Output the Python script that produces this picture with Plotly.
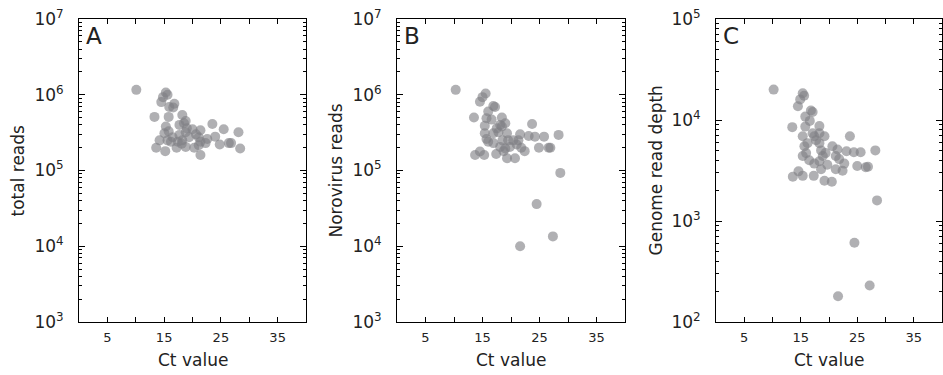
import plotly.graph_objects as go

# Panel A: total reads vs Ct
ct_a = [10.1, 15.3, 15.6, 14.8, 14.5, 16.8, 16.6, 13.3, 15.8, 18.2, 15.9, 15.3, 17.7, 18.8,
        20.0, 21.4, 23.5, 25.5, 28.1, 13.6, 15.2, 17.2, 21.4, 28.4, 24.8, 26.4, 26.8, 14.2,
        20.3, 22.3, 24.0, 15.05, 15.6, 16.5, 17.7, 18.2, 18.8, 19.4, 18.1, 18.8, 21.1, 21.4,
        21.1, 16.2, 17.4, 19.0, 20.6, 22.6, 15.8, 18.5]
reads_a = [1.16e6, 1.07e6, 1.0e6, 9.3e5, 8.0e5, 7.6e5, 6.8e5, 5.1e5, 5.1e5, 5.4e5, 6.9e5, 3.8e5,
           4.0e5, 4.5e5, 3.5e5, 3.4e5, 4.1e5, 3.5e5, 3.2e5, 2.0e5, 1.8e5, 2.0e5, 1.6e5, 1.95e5,
           2.2e5, 2.3e5, 2.3e5, 2.5e5, 2.0e5, 2.3e5, 2.8e5, 3.1e5, 2.5e5, 2.75e5, 2.95e5, 2.5e5,
           3.2e5, 2.75e5, 2.25e5, 2.05e5, 2.75e5, 2.4e5, 2.15e5, 2.4e5, 2.4e5, 3.6e5, 3.0e5,
           2.6e5, 3.3e5, 4.2e5]

# Panel B: norovirus reads vs Ct
ct_b = [10.3, 15.55, 15.0, 14.55, 16.9, 17.2, 13.5, 16.0, 15.7, 18.4, 15.4, 18.1, 19.0, 23.7,
        21.6, 23.1, 24.2, 25.8, 28.35, 13.7, 14.55, 15.3, 17.4, 19.3, 20.7, 22.4, 24.9, 26.6,
        26.9, 28.65, 24.5, 27.35, 21.6, 15.4, 15.7, 16.0, 16.9, 17.8, 18.5, 19.0, 19.8, 20.4,
        21.0, 21.3, 21.8, 18.1, 18.7, 16.9, 16.6, 17.5, 19.3, 19.5, 18.4]
reads_b = [1.16e6, 1.04e6, 9.3e5, 8.1e5, 7.1e5, 6.9e5, 5.0e5, 6.0e5, 4.9e5, 5.0e5, 3.9e5, 4.0e5,
           4.2e5, 4.1e5, 3.0e5, 2.85e5, 2.8e5, 2.8e5, 2.95e5, 1.6e5, 1.78e5, 1.6e5, 1.65e5, 1.45e5,
           1.45e5, 1.8e5, 2.0e5, 2.0e5, 2.0e5, 9.3e4, 3.6e4, 1.35e4, 1.0e4, 3.1e5, 2.6e5, 2.4e5,
           2.3e5, 3.2e5, 2.5e5, 1.95e5, 2.05e5, 2.5e5, 2.2e5, 2.5e5, 2.0e5, 2.05e5, 1.8e5, 3.1e5,
           4.7e5, 3.6e5, 3.1e5, 2.5e5, 3.8e5]

# Panel C: genome read depth vs Ct
ct_c = [10.2, 15.35, 15.6, 14.9, 14.5, 16.8, 17.1, 15.8, 16.6, 13.5, 15.8, 18.3, 23.7, 15.35,
        17.4, 19.2, 18.3, 28.2, 21.5, 23.1, 24.4, 25.6, 13.6, 14.6, 15.35, 17.3, 19.2, 20.5,
        22.4, 21.2, 25.0, 26.5, 26.9, 18.6, 19.7, 28.5, 24.5, 27.2, 21.6, 15.65, 15.95, 15.35,
        16.5, 18.3, 18.6, 18.9, 18.3, 17.4, 19.4, 20.6, 21.2, 21.8, 22.7, 17.1, 17.7, 16.2]
depth_c = [2.0e4, 1.84e4, 1.74e4, 1.6e4, 1.37e4, 1.24e4, 1.2e4, 1.08e4, 9.8e3, 8.5e3, 8.6e3,
           8.7e3, 6.9e3, 6.9e3, 6.9e3, 6.9e3, 7.4e3, 5.0e3, 5.1e3, 4.9e3, 4.8e3, 4.8e3, 2.75e3,
           3.1e3, 2.8e3, 2.8e3, 2.5e3, 2.45e3, 3.15e3, 3.25e3, 3.5e3, 3.4e3, 3.45e3, 3.25e3,
           3.6e3, 1.6e3, 6.1e2, 2.3e2, 1.8e2, 5.5e3, 4.7e3, 4.4e3, 4.0e3, 5.9e3, 5.0e3, 4.4e3,
           3.9e3, 3.7e3, 4.7e3, 5.5e3, 4.4e3, 4.1e3, 3.7e3, 7.4e3, 6.3e3, 5.9e3]

panel_letters = ["A", "B", "C"]
y_titles = ["total reads", "Norovirus reads", "Genome read depth"]
x_title = "Ct value"
x_ticks = [5, 10, 15, 20, 25, 30, 35]
x_ticktext = ["5", "", "15", "", "25", "", "35"]

W, H = 943, 375
FONT = "DejaVu Sans"
TXT = "#222222"

fig = go.Figure()
series = [(ct_a, reads_a), (ct_b, reads_b), (ct_c, depth_c)]
for i, (xs, ys) in enumerate(series):
    sfx = "" if i == 0 else str(i + 1)
    fig.add_trace(go.Scatter(
        x=xs, y=ys, mode="markers", xaxis="x" + sfx, yaxis="y" + sfx,
        marker=dict(size=10, color="rgba(128,128,132,0.62)", line=dict(width=0)),
        showlegend=False, hoverinfo="skip"))

# pixel boxes of the three panels
xpix = [(79, 306), (397, 625), (716, 942)]
ytop, ybot = 19, 322
ydom = [1 - ybot / H, 1 - ytop / H]
yranges = [(3, 7), (3, 7), (2, 5)]
ytitle_x = [17, 335, 655]

layout = dict(width=W, height=H, margin=dict(l=0, r=0, t=0, b=0),
              paper_bgcolor="white", plot_bgcolor="white",
              font=dict(family=FONT, color=TXT))
annotations = []
for i in range(3):
    sfx = "" if i == 0 else str(i + 1)
    x0, x1 = xpix[i]
    lo, hi = yranges[i]
    layout["xaxis" + sfx] = dict(
        domain=[x0 / W, x1 / W], range=[0, 40], anchor="y" + sfx,
        tickvals=x_ticks, ticktext=x_ticktext, ticks="inside", ticklen=5,
        tickcolor="black", showline=True, linecolor="black", linewidth=1,
        mirror="ticks", showgrid=False, zeroline=False, ticklabelstandoff=3,
        tickfont=dict(size=13, family=FONT, color=TXT), automargin=False)
    layout["yaxis" + sfx] = dict(
        domain=ydom, type="log", range=[lo, hi], anchor="x" + sfx,
        tickvals=[10 ** k for k in range(lo, hi + 1)],
        ticktext=["10<sup>%d</sup>" % k for k in range(lo, hi + 1)],
        ticks="inside", ticklen=6, tickcolor="black",
        minor=dict(ticks="inside", ticklen=3, tickcolor="black", dtick="D1", showgrid=False),
        showline=True, linecolor="black", linewidth=1, mirror="ticks",
        showgrid=False, zeroline=False, ticklabelstandoff=11,
        tickfont=dict(size=17, family=FONT, color=TXT), automargin=False)
    annotations.append(dict(text=panel_letters[i], xref="x%s domain" % sfx, yref="y%s domain" % sfx,
                            x=0.02, y=0.995, xanchor="left", yanchor="top", showarrow=False,
                            font=dict(size=23, family=FONT, color=TXT)))
    annotations.append(dict(text=x_title, xref="x%s domain" % sfx, yref="paper",
                            x=0.5, y=1 - 360 / H, xanchor="center", yanchor="middle",
                            showarrow=False, font=dict(size=17, family=FONT, color=TXT)))
    annotations.append(dict(text=y_titles[i], xref="paper", yref="y%s domain" % sfx,
                            x=ytitle_x[i] / W, y=0.5, xanchor="center", yanchor="middle",
                            textangle=-90, showarrow=False,
                            font=dict(size=17, family=FONT, color=TXT)))
layout["annotations"] = annotations
fig.update_layout(**layout)
fig.write_html("out.html", config={"displayModeBar": False})

# remove the browser's default page margin so the figure fills the window exactly
with open("out.html", encoding="utf-8") as f:
    html = f.read()
html = html.replace("<head>", "<head><style>html,body{margin:0;padding:0;overflow:hidden}</style>", 1)
with open("out.html", "w", encoding="utf-8") as f:
    f.write(html)
